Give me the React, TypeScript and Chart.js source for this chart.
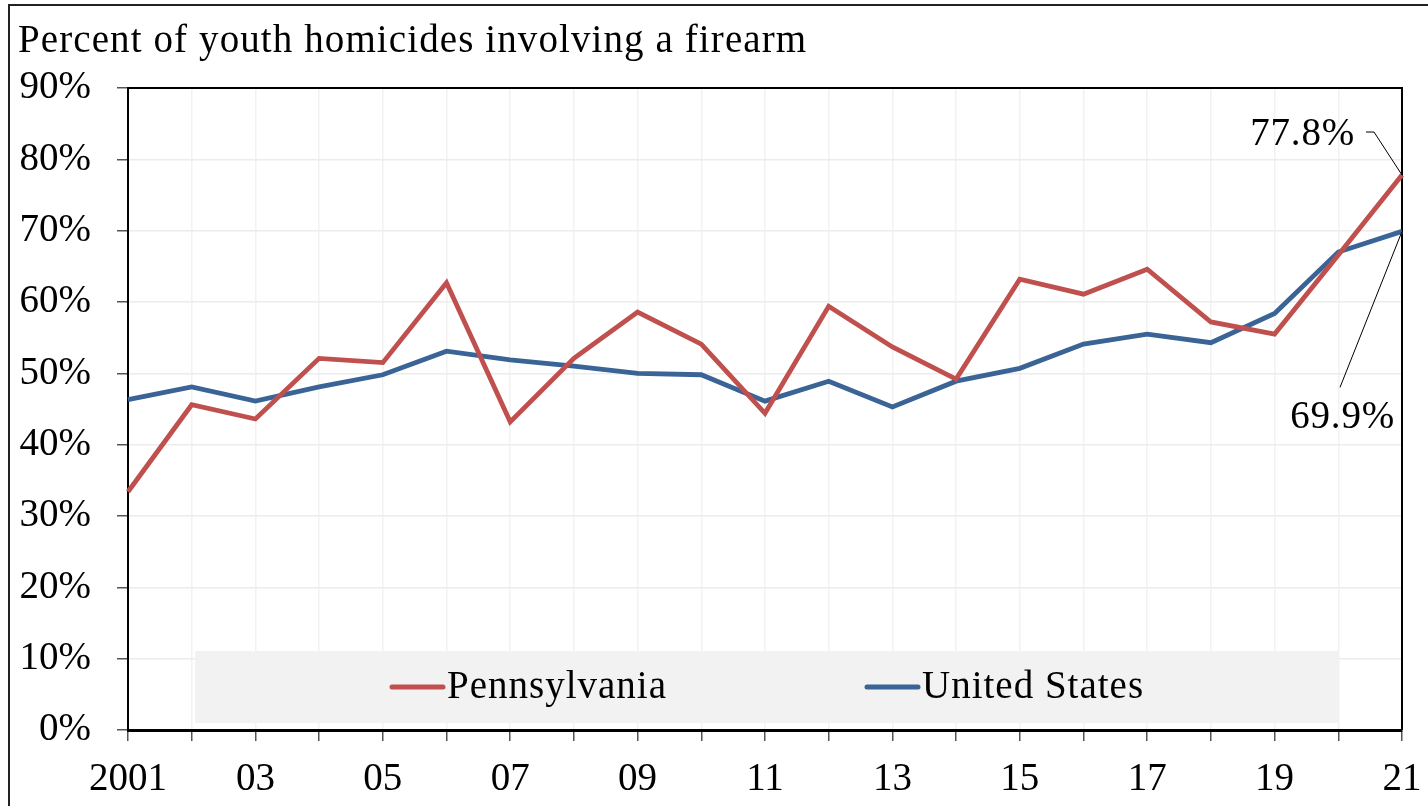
import React, { useEffect, useRef } from "react";
import { Chart, registerables } from "chart.js";

Chart.register(...registerables);

const titleText = "Percent of youth homicides involving a firearm";
const years = [
  "2001", "2002", "2003", "2004", "2005", "2006", "2007", "2008", "2009", "2010",
  "2011", "2012", "2013", "2014", "2015", "2016", "2017", "2018", "2019", "2020", "2021",
];
const xTickLabels = [
  "2001", "", "03", "", "05", "", "07", "", "09", "", "11", "", "13", "", "15", "", "17", "", "19", "", "21",
];
const pennsylvania = [
  33.4, 45.6, 43.6, 52.1, 51.5, 62.7, 43.2, 52.1, 58.6, 54.1, 44.4, 59.4, 53.7, 49.2, 63.2, 61.1, 64.6, 57.2, 55.5, 66.6, 77.8,
];
const unitedStates = [
  46.3, 48.1, 46.1, 48.1, 49.8, 53.1, 51.9, 51.0, 50.0, 49.8, 46.1, 48.9, 45.3, 48.9, 50.7, 54.1, 55.5, 54.3, 58.4, 67.0, 69.9,
];
const seriesNames = ["Pennsylvania", "United States"];
const seriesColors = ["#C0504D", "#3A6496"];
const endLabels = ["77.8%", "69.9%"];

const FONT = "'Liberation Serif', 'Times New Roman', serif";
const FS = 39;

const decorPlugin = {
  id: "decor",
  beforeDatasetsDraw(chart: any) {
    const { ctx, chartArea } = chart;
    const { left, right, top, bottom } = chartArea;
    ctx.save();
    // legend box
    ctx.fillStyle = "#f2f2f2";
    ctx.fillRect(left + 67, bottom - 79, right - left - 130, 72);
    // plot frame top/right
    ctx.strokeStyle = "#000";
    ctx.lineWidth = 2;
    ctx.beginPath();
    ctx.moveTo(left, top);
    ctx.lineTo(right, top);
    ctx.lineTo(right, bottom);
    ctx.stroke();
    // legend items
    const ly = bottom - 43;
    const itemX = [left + 264, left + 739];
    ctx.font = `${FS}px ${FONT}`;
    (ctx as any).letterSpacing = "1px";
    ctx.textBaseline = "middle";
    ctx.textAlign = "left";
    chart.data.datasets.forEach((ds: any, i: number) => {
      ctx.strokeStyle = ds.borderColor;
      ctx.lineWidth = 5;
      ctx.lineCap = "round";
      ctx.beginPath();
      ctx.moveTo(itemX[i], ly);
      ctx.lineTo(itemX[i] + 51, ly);
      ctx.stroke();
      ctx.fillStyle = "#000";
      ctx.fillText(ds.label, itemX[i] + 55, ly + 1);
    });
    (ctx as any).letterSpacing = "0px";
    ctx.restore();
  },
  afterDraw(chart: any) {
    const { ctx } = chart;
    ctx.save();
    // title
    ctx.font = `${FS}px ${FONT}`;
    (ctx as any).letterSpacing = "1.1px";
    ctx.fillStyle = "#000";
    ctx.textBaseline = "alphabetic";
    ctx.textAlign = "left";
    ctx.fillText(titleText, 18, 52);
    // outer frame
    ctx.strokeStyle = "#222";
    ctx.lineWidth = 2;
    ctx.strokeRect(9, 5, 2000, 2000);
    // end labels with leader lines
    const m0 = chart.getDatasetMeta(0).data;
    const m1 = chart.getDatasetMeta(1).data;
    const p0 = m0[m0.length - 1];
    const p1 = m1[m1.length - 1];
    ctx.strokeStyle = "#000";
    ctx.lineWidth = 1;
    ctx.beginPath();
    ctx.moveTo(p0.x - 36, p0.y - 43);
    ctx.lineTo(p0.x - 28, p0.y - 43);
    ctx.lineTo(p0.x, p0.y);
    ctx.moveTo(p1.x, p1.y);
    ctx.lineTo(p1.x - 62, p1.y + 156);
    ctx.stroke();
    (ctx as any).letterSpacing = "0.8px";
    ctx.textBaseline = "middle";
    ctx.textAlign = "right";
    ctx.fillText(endLabels[0], p0.x - 47, p0.y - 40);
    ctx.fillText(endLabels[1], p1.x - 7, p1.y + 186);
    (ctx as any).letterSpacing = "0px";
    ctx.restore();
  },
};

export default function App() {
  const ref = useRef<HTMLCanvasElement>(null);
  useEffect(() => {
    document.body.style.margin = "0";
    const canvas = ref.current!;
    const chart = new Chart(canvas, {
      type: "line",
      data: {
        labels: years,
        datasets: [
          {
            label: seriesNames[0],
            data: pennsylvania,
            borderColor: seriesColors[0],
            backgroundColor: seriesColors[0],
            borderWidth: 4.8,
            pointRadius: 0,
            tension: 0,
          },
          {
            label: seriesNames[1],
            data: unitedStates,
            borderColor: seriesColors[1],
            backgroundColor: seriesColors[1],
            borderWidth: 4.8,
            pointRadius: 0,
            tension: 0,
          },
        ],
      },
      options: {
        responsive: false,
        animation: false,
        devicePixelRatio: 1,
        layout: { padding: { top: 88, right: 26, left: 0, bottom: 0 } },
        plugins: {
          legend: { display: false },
          title: { display: false },
          tooltip: { enabled: false },
        },
        scales: {
          x: {
            type: "category",
            offset: false,
            grid: {
              color: "#f2f2f2",
              lineWidth: 1.5,
              tickColor: "#555",
              tickLength: 11,
              drawOnChartArea: true,
            },
            border: { color: "#000", width: 3 },
            ticks: {
              autoSkip: false,
              maxRotation: 0,
              minRotation: 0,
              padding: 15,
              color: "#000",
              font: { family: FONT, size: FS },
              callback: (_v: any, i: number) => xTickLabels[i],
            },
            afterFit: (s: any) => {
              s.height = 76;
              s.paddingRight = 0;
              s.paddingLeft = 0;
            },
          },
          y: {
            min: 0,
            max: 90,
            grid: {
              color: "#ececec",
              lineWidth: 1.5,
              tickColor: "#555",
              tickLength: 11,
            },
            border: { color: "#000", width: 2 },
            ticks: {
              stepSize: 10,
              padding: 26,
              color: "#000",
              font: { family: FONT, size: FS },
              callback: (v: any) => v + "%",
            },
            afterFit: (s: any) => {
              s.width = 128;
            },
          },
        },
      },
      plugins: [decorPlugin],
    });
    return () => chart.destroy();
  }, []);
  return (
    <div style={{ position: "absolute", left: 0, top: 0, width: 1428, height: 806, background: "#fff" }}>
      <canvas ref={ref} width={1428} height={806} />
    </div>
  );
}
